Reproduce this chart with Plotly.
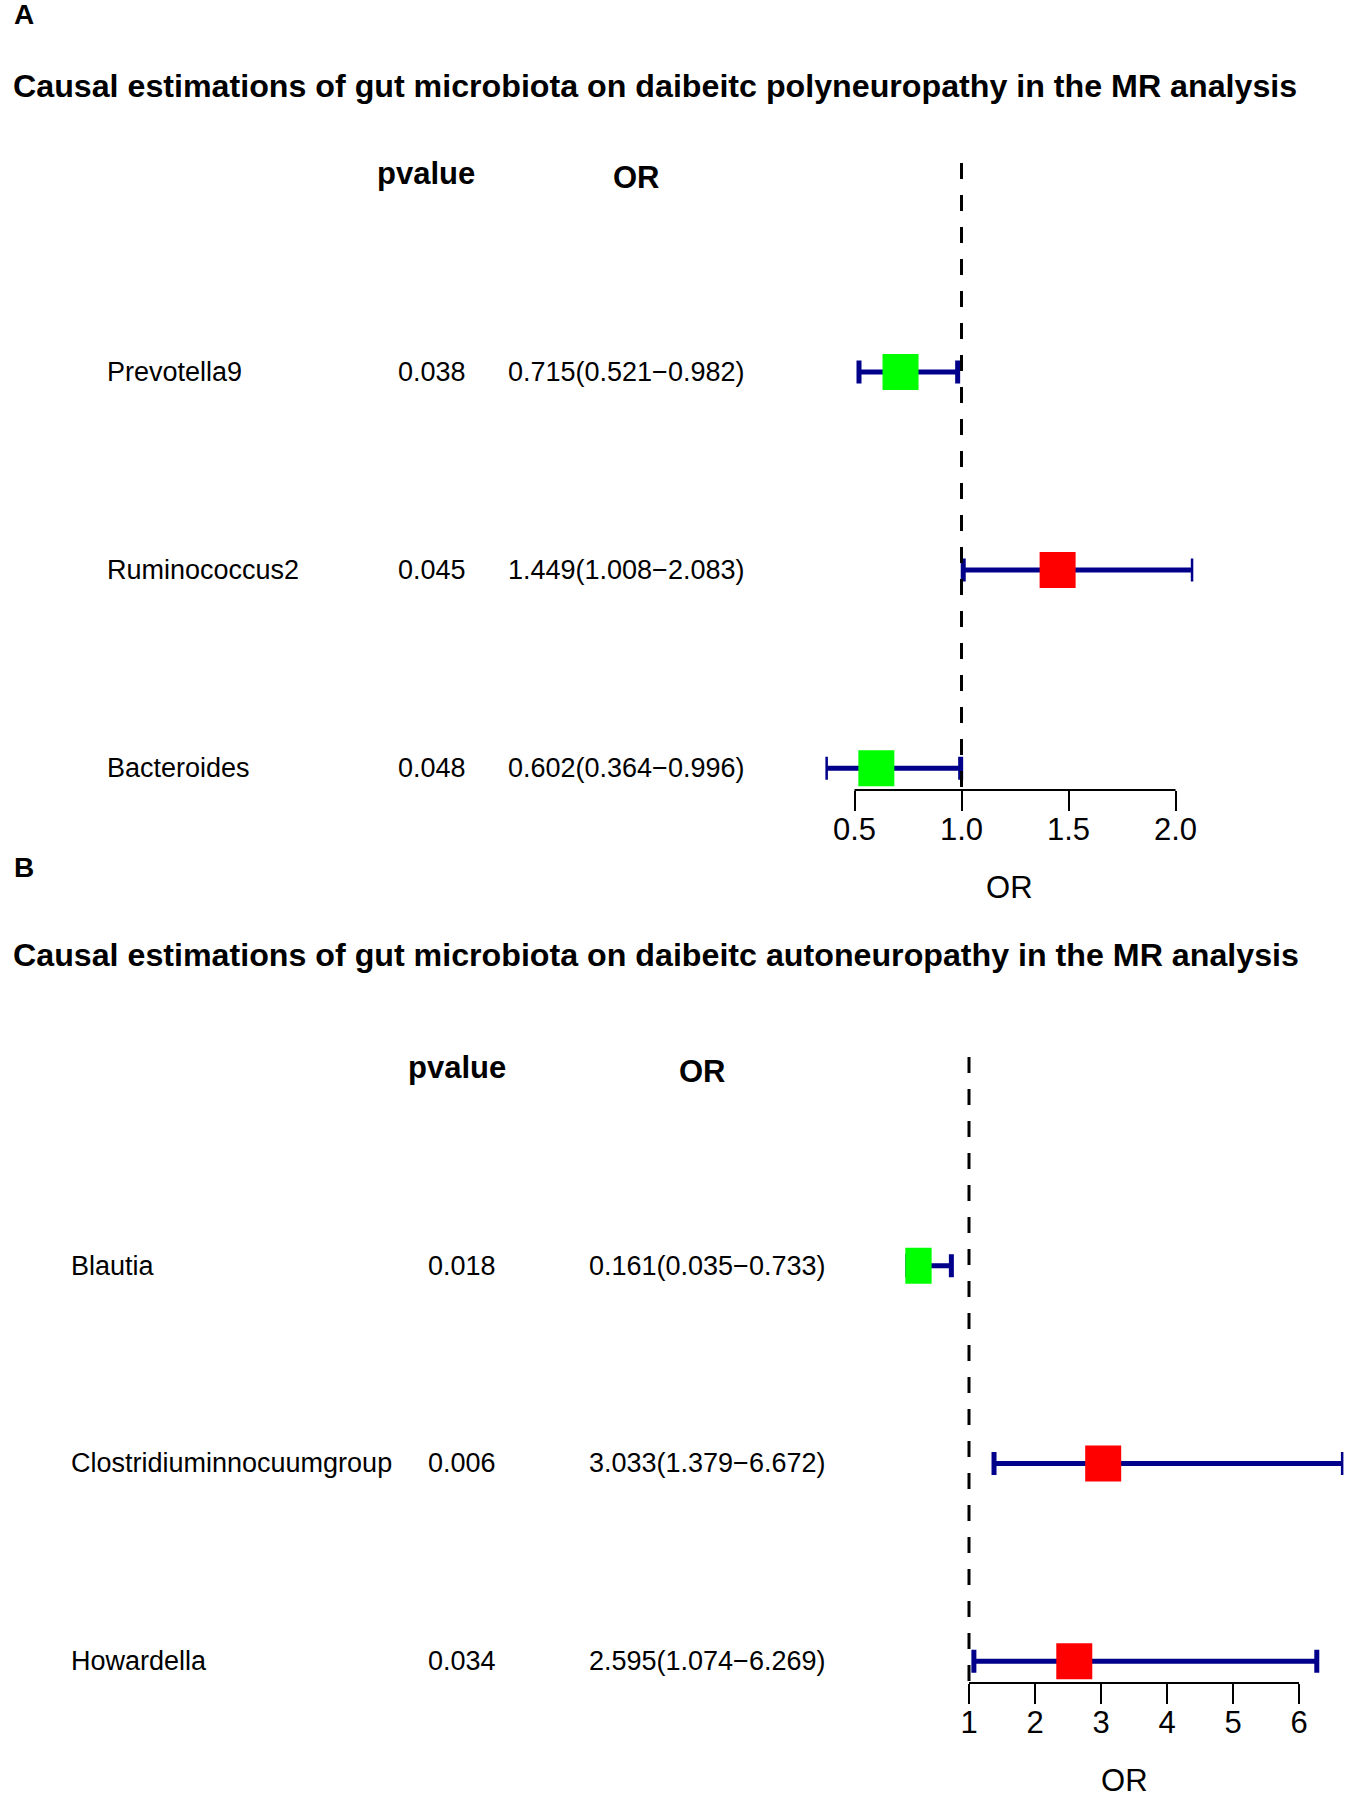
import plotly.graph_objs as go

# panel A data
names_a = ["Prevotella9", "Ruminococcus2", "Bacteroides"]
pval_a = ["0.038", "0.045", "0.048"]
or_a = [0.715, 1.449, 0.602]
lo_a = [0.521, 1.008, 0.364]
hi_a = [0.982, 2.083, 0.996]
ticks_a = [0.5, 1.0, 1.5, 2.0]
ticktext_a = ["0.5", "1.0", "1.5", "2.0"]

# panel B data
names_b = ["Blautia", "Clostridiuminnocuumgroup", "Howardella"]
pval_b = ["0.018", "0.006", "0.034"]
or_b = [0.161, 3.033, 2.595]
lo_b = [0.035, 1.379, 1.074]
hi_b = [0.733, 6.672, 6.269]
ticks_b = [1, 2, 3, 4, 5, 6]
ticktext_b = ["1", "2", "3", "4", "5", "6"]

title_a = "Causal estimations of gut microbiota on daibeitc polyneuropathy in the MR analysis"
title_b = "Causal estimations of gut microbiota on daibeitc autoneuropathy in the MR analysis"

W, H = 1358, 1803
FONT = "Liberation Sans, Arial, sans-serif"
NAVY = "#00008B"


def fx(px):
    return px / W


def fy(py):
    return 1 - py / H


fig = go.Figure()


def add_panel(fig, n, names, pvals, ors, los, his, tickv, tickt,
              xdom, ydom, col_name, col_p, col_or, head_p, head_or):
    xa = "x" if n == 1 else "x%d" % n
    ya = "y" if n == 1 else "y%d" % n
    rows = list(range(1, len(names) + 1))

    # confidence intervals
    fig.add_trace(go.Scatter(
        x=ors, y=rows, mode="markers", xaxis=xa, yaxis=ya,
        marker=dict(size=1, opacity=0),
        error_x=dict(type="data", symmetric=False,
                     array=[h - o for h, o in zip(his, ors)],
                     arrayminus=[o - l for o, l in zip(ors, los)],
                     color=NAVY, thickness=5, width=11.5),
        cliponaxis=False, hoverinfo="skip"))

    # boxes
    fig.add_trace(go.Scatter(
        x=ors, y=rows, mode="markers", xaxis=xa, yaxis=ya,
        marker=dict(symbol="square", size=36,
                    color=["#00FF00" if o < 1 else "#FF0000" for o in ors],
                    line=dict(width=0)),
        cliponaxis=True))

    lo_all, hi_all = min(los), max(his)
    fig.layout["xaxis" if n == 1 else "xaxis%d" % n] = dict(
        domain=[fx(xdom[0]), fx(xdom[1])], range=[lo_all, hi_all],
        anchor=ya, showgrid=False, zeroline=False, showline=False,
        automargin=False,
        tickmode="array", tickvals=tickv, ticktext=tickt,
        ticks="outside", ticklen=20, tickwidth=2, tickcolor="black",
        ticklabelstandoff=-8,
        tickfont=dict(family=FONT, size=31, color="black"),
        title=dict(text="OR", font=dict(family=FONT, size=31, color="black"),
                   standoff=30))
    fig.layout["yaxis" if n == 1 else "yaxis%d" % n] = dict(
        domain=[fy(ydom[1]), fy(ydom[0])], range=[3.11, -0.055],
        anchor=xa, visible=False, automargin=False)

    # axis line over tick span, reference line at OR = 1
    fig.add_shape(type="line", xref=xa, yref=ya + " domain",
                  x0=tickv[0], x1=tickv[-1], y0=0, y1=0,
                  line=dict(color="black", width=2))
    fig.add_shape(type="line", xref=xa, yref=ya + " domain",
                  x0=1, x1=1, y0=1, y1=0,
                  line=dict(color="black", width=3, dash="16px,16px"))

    txt = dict(family=FONT, size=27, color="black")
    hdr = dict(family=FONT, size=31, color="black")
    for r, nm, p, o, l, h in zip(rows, names, pvals, ors, los, his):
        fig.add_annotation(x=fx(col_name), y=r, xref="paper", yref=ya,
                           text=nm, showarrow=False, xanchor="left", font=txt)
        fig.add_annotation(x=fx(col_p), y=r, xref="paper", yref=ya,
                           text=p, showarrow=False, xanchor="center", font=txt)
        fig.add_annotation(x=fx(col_or), y=r, xref="paper", yref=ya,
                           text="%.3f(%.3f\u2212%.3f)" % (o, l, h),
                           showarrow=False, xanchor="left", font=txt)
    fig.add_annotation(x=fx(head_p), y=0, xref="paper", yref=ya,
                       text="<b>pvalue</b>", showarrow=False,
                       xanchor="center", font=hdr)
    fig.add_annotation(x=fx(head_or), y=0, xref="paper", yref=ya, yshift=-4,
                       text="<b>OR</b>", showarrow=False,
                       xanchor="center", font=hdr)


add_panel(fig, 1, names_a, pval_a, or_a, lo_a, hi_a, ticks_a, ticktext_a,
          (825.4, 1193.3), (163, 790), 105, 432.5, 506, 426, 636.5)
add_panel(fig, 2, names_b, pval_b, or_b, lo_b, hi_b, ticks_b, ticktext_b,
          (905.3, 1343.4), (1057, 1683), 68.5, 461.5, 587, 457, 702)

# panel letters and titles
for letter, ypx in [("A", 15), ("B", 867)]:
    fig.add_annotation(x=fx(12), y=fy(ypx), xref="paper", yref="paper",
                       text="<b>%s</b>" % letter, showarrow=False,
                       xanchor="left", yanchor="middle",
                       font=dict(family=FONT, size=28, color="black"))
for t, ypx in [(title_a, 86), (title_b, 955)]:
    fig.add_annotation(x=fx(11), y=fy(ypx), xref="paper", yref="paper",
                       text="<b>%s</b>" % t, showarrow=False,
                       xanchor="left", yanchor="middle",
                       font=dict(family=FONT, size=32.2, color="black"))

fig.update_layout(width=W, height=H,
                  margin=dict(l=0, r=0, t=0, b=0, autoexpand=False),
                  paper_bgcolor="white", plot_bgcolor="white",
                  showlegend=False)

fig.write_html("out.html", config={"displayModeBar": False},
               post_script="document.body.style.margin='0px';")
